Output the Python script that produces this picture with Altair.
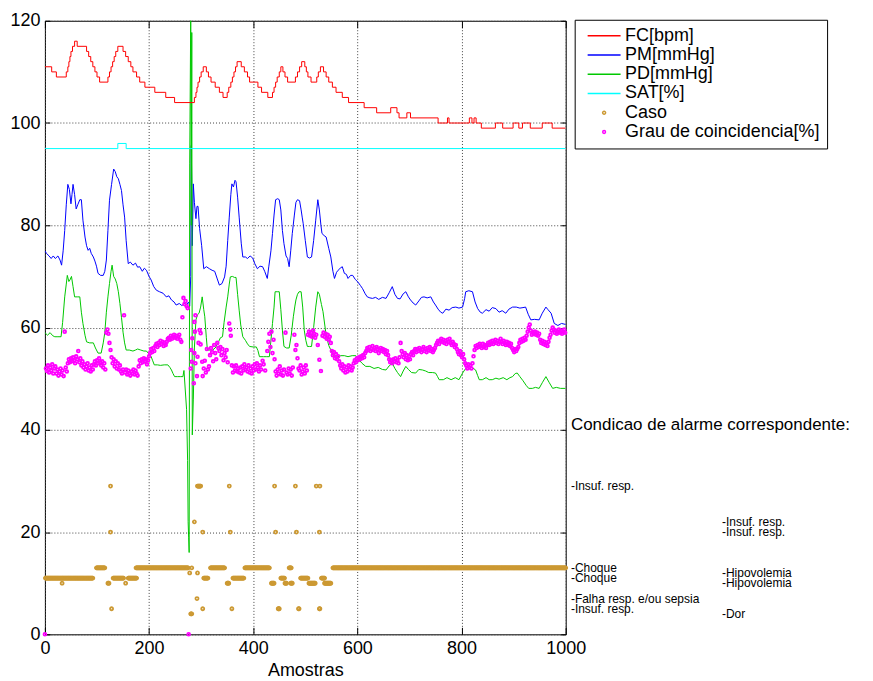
import altair as alt
import pandas as pd

FONT = "Liberation Sans"

SERIES = ["FC[bpm]", "PM[mmHg]", "PD[mmHg]", "SAT[%]", "Caso", "Grau de coincidencia[%]"]
COLORS = ["#ff0000", "#0000ff", "#00c800", "#00ffff", "#cc9933", "#ff00ff"]
LINE_SHAPE = "M-3.3,0L3.3,0"
DOT_SHAPE = "M-0.3,0A0.3,0.3,0,1,1,0.3,0A0.3,0.3,0,1,1,-0.3,0Z"
STAR_SHAPE = "M-0.28,0A0.28,0.28,0,1,1,0.28,0A0.28,0.28,0,1,1,-0.28,0Z"
SHAPES = [LINE_SHAPE, LINE_SHAPE, LINE_SHAPE, LINE_SHAPE, DOT_SHAPE, STAR_SHAPE]

X_TICKS = [0, 200, 400, 600, 800, 1000]
Y_TICKS = [0, 20, 40, 60, 80, 100, 120]

# FC [bpm]  (step values)
FC_X = [0, 13, 22, 41, 44, 46, 48, 50, 53, 57, 62, 80, 84, 88, 92, 96, 100, 105, 121, 124, 127, 130, 133, 136, 140,
        150, 155, 160, 165, 169, 176, 182, 192, 211, 232, 249, 287, 290, 292, 294, 297, 300, 304, 310, 314, 319, 327,
        335, 342, 350, 353, 357, 360, 363, 366, 369, 377, 383, 389, 393, 409, 416, 428, 437, 440, 443, 446, 450, 453,
        457, 461, 466, 481, 485, 489, 493, 499, 502, 505, 511, 522, 525, 529, 535, 540, 545, 552, 559, 571, 583, 613,
        637, 664, 676, 680, 695, 702, 755, 773, 776, 815, 820, 824, 828, 838, 865, 879, 899, 910, 917, 932, 955, 974, 1000]
FC_Y = [111, 110, 109, 110, 111, 112, 113, 114, 115, 116, 115, 114, 113, 112, 111, 110, 109, 108, 109, 110, 111, 112, 113, 114, 115,
        114, 113, 112, 111, 110, 109, 108, 107, 106, 105, 104, 105, 106, 107, 108, 109, 110, 111, 110, 109, 108, 107,
        106, 105, 106, 107, 108, 109, 110, 111, 112, 111, 110, 109, 108, 107, 106, 105, 106, 107, 108, 109, 110, 111,
        110, 109, 108, 109, 110, 111, 112, 111, 110, 109, 108, 109, 110, 111, 110, 109, 108, 107, 106, 105, 104, 103,
        102, 103, 102, 101, 102, 101, 100, 101, 100, 101, 100, 101, 100, 99, 100, 99, 100, 99, 100, 99, 100, 99, 99]

# SAT [%]  (step values)
SAT_X = [0, 140, 156, 1000]
SAT_Y = [95, 96, 95, 95]

# PM [mmHg]
PM_X = [0, 3, 8, 12, 16, 20, 25, 29, 32, 35, 38, 41, 44, 47, 50, 52, 54, 57, 60, 63, 67, 70, 73, 77, 80, 83, 86, 89, 93,
        96, 99, 102, 107, 112, 115, 118, 121, 124, 128, 132, 135, 138, 141, 144, 147, 150, 153, 156, 160, 164, 169, 174,
        178, 182, 187, 191, 195, 200, 204, 209, 214, 220, 227, 233, 238, 243, 248, 252, 258, 263, 268, 272, 276, 278,
        280, 281, 282, 283, 285, 287, 290, 292, 294, 297, 301, 305, 310, 316, 321, 326, 331, 335, 340, 345, 348, 351,
        354, 357, 359, 362, 365, 367, 370, 373, 377, 380, 385, 389, 394, 399, 403, 408, 413, 418, 422, 427, 430, 434,
        437, 440, 443, 447, 450, 453, 456, 459, 463, 466, 469, 472, 475, 479, 482, 485, 489, 492, 494, 496, 500, 504,
        508, 512, 516, 520, 524, 527, 530, 532, 536, 540, 545, 549, 553, 556, 560, 563, 567, 571, 575, 579, 582, 587,
        591, 596, 601, 606, 610, 615, 619, 624, 629, 635, 641, 648, 655, 661, 667, 672, 677, 682, 688, 693, 698, 702,
        707, 712, 718, 723, 728, 734, 741, 746, 750, 755, 760, 764, 770, 776, 782, 789, 795, 802, 806, 808, 814, 821,
        826, 831, 836, 840, 847, 853, 859, 866, 872, 878, 885, 891, 898, 905, 912, 918, 923, 928, 933, 940, 949, 955,
        962, 966, 972, 978, 985, 992, 1000]
PM_Y = [75, 74.5, 74, 73.5, 74, 73.5, 74, 73.2, 72.2, 75, 79, 84, 88, 87, 84.2, 86, 88, 86, 83.2, 84, 85, 85, 81, 77.7,
        76, 75.1, 75.5, 74.5, 73.8, 73, 72, 70.6, 70.2, 70.2, 71, 73.2, 79, 84.9, 88, 91, 90.5, 89.5, 89.1, 88, 86.8, 84,
        81.6, 77, 72.5, 72.8, 72.2, 72.6, 71.8, 71.9, 71, 71.6, 71.2, 70, 69.3, 68, 67.3, 67, 66.7, 66, 66.2, 65.4, 65,
        64.4, 64.7, 64.3, 64.7, 64.5, 65, 64.2, 70, 95.6, 88, 76, 88.1, 84.5, 81.3, 83.7, 83.7, 79.4, 76, 71.5, 71.9,
        71.5, 71.2, 71, 69.5, 68.3, 68.6, 69.9, 72, 77, 81.6, 86, 88.1, 87.5, 88.8, 88.5, 85.5, 81.6, 76.5, 73.8, 73.8,
        73.5, 74, 73.6, 72.5, 71.5, 72, 71.9, 71, 69.6, 72, 75, 78.4, 82, 85, 85.2, 85, 83, 79, 76.4, 74, 73.5, 71.9,
        75, 78.4, 82, 84.5, 85, 84.8, 83, 81.6, 80.3, 77, 73.8, 73.6, 73.8, 77, 81, 85, 83, 80, 78.4, 78, 77.7, 75.5,
        73.8, 71, 69.6, 70.8, 71.2, 71.6, 71.9, 70.6, 70.4, 69.6, 70.2, 70.2, 69.4, 68.9, 68.2, 67.6, 66.6, 66, 65.8,
        65.7, 65.9, 65.5, 65.9, 65.7, 66.8, 68, 66.5, 65.7, 65.6, 66.6, 67, 66, 65.4, 64.8, 64.4, 65.2, 65.9, 66, 65.8,
        66, 65, 64.4, 63.6, 63, 62.8, 63.6, 63.4, 63.9, 64, 63.8, 64, 65.7, 67, 67.2, 67, 65, 63.7, 63, 62.8, 63.5,
        63.2, 63.9, 63.7, 63, 63.3, 62.8, 63.6, 64, 64, 63.8, 63.9, 64, 62.6, 61.5, 61.6, 61.5, 62.8, 64, 63.5, 62.8,
        60.8, 60.4, 60.8, 60.6]

# PD [mmHg]
PD_X = [0, 5, 10, 15, 19, 25, 31, 34, 38, 41, 43, 46, 48, 51, 54, 57, 62, 67, 70, 73, 77, 80, 86, 93, 97, 102, 108, 112,
        115, 118, 121, 124, 127, 129, 132, 135, 138, 141, 144, 147, 150, 153, 156, 162, 169, 174, 178, 184, 190, 195,
        200, 204, 207, 210, 216, 222, 229, 236, 240, 243, 246, 249, 255, 260, 265, 267, 272, 274, 275, 276, 277, 278,
        280, 281, 282, 283, 285, 287, 290, 293, 296, 299, 302, 305, 307, 310, 312, 317, 322, 327, 332, 337, 341, 344,
        348, 351, 354, 356, 360, 364, 367, 370, 373, 376, 380, 385, 389, 393, 400, 406, 409, 412, 420, 426, 431, 434,
        437, 440, 442, 446, 450, 453, 456, 459, 464, 469, 473, 477, 480, 482, 485, 488, 492, 495, 498, 501, 504, 508,
        512, 516, 520, 524, 527, 531, 534, 540, 545, 549, 552, 555, 560, 568, 575, 582, 590, 597, 600, 603, 609, 616,
        624, 632, 640, 648, 655, 661, 667, 672, 677, 683, 688, 693, 698, 704, 712, 718, 725, 731, 737, 744, 750, 754,
        757, 765, 772, 780, 788, 795, 802, 808, 814, 820, 827, 831, 834, 840, 847, 853, 859, 866, 872, 880, 887, 893,
        898, 903, 907, 912, 918, 924, 929, 936, 942, 949, 955, 962, 968, 975, 982, 990, 1000]
PD_Y = [59, 58.5, 59, 58.4, 58.2, 58.2, 58.2, 61, 66, 68.5, 70.2, 69, 69.3, 70, 68, 66, 66, 66, 63, 60.8, 58.5, 57.2, 57,
        57, 56, 55, 55, 57, 59, 63, 66, 68.6, 71, 72.2, 70, 69.5, 68.6, 67, 64.7, 62, 59.1, 57, 55.6, 55.6, 55.4, 55.6,
        55.8, 55.6, 55.4, 55.4, 54.8, 54.3, 53.5, 52.7, 52.7, 52.6, 52.7, 52.7, 52.2, 51.7, 51, 50.4, 50.4, 50.4, 50.4,
        51.6, 44, 34, 22, 19, 16, 92, 121, 80, 117.7, 39, 46, 56, 61.5, 62.5, 62.8, 64, 66, 63.5, 62.1, 58, 55.6, 55.6,
        55.6, 56, 56.9, 58, 58.2, 61, 64, 66, 68.5, 69.9, 70, 69.8, 69.8, 66.5, 63.4, 60.5, 58.2, 57.5, 56.8, 56.3,
        56.2, 56.2, 55.5, 54.3, 54.3, 54.3, 54.3, 57.5, 60.8, 64, 67, 67, 67, 63.5, 59.5, 56.3, 56, 56, 58.5, 62.1,
        64.2, 65.4, 66.5, 67, 67, 64, 59.5, 57.5, 56.3, 56.3, 56.3, 60, 64, 67, 66.5, 64.5, 63.1, 58.5, 56.5, 55.6,
        54.8, 54.3, 54.2, 54.5, 54.5, 54.3, 54.5, 54.5, 54, 53.7, 53, 52.4, 52.4, 52, 52.2, 51.8, 51.7, 52.5, 53, 52,
        51.2, 50.4, 51.5, 52.4, 51.8, 51.2, 51.1, 51.8, 51.7, 51.5, 51.2, 51.2, 51.1, 50.4, 49.8, 49.8, 50.2, 49.8,
        50.2, 49.8, 51.1, 52, 52.4, 52.2, 51.7, 50.6, 49.8, 49.8, 50.2, 49.8, 49.8, 50.1, 49.9, 50.2, 49.8, 50.2,
        50.4, 51, 51.1, 50.4, 49.6, 48.7, 48.1, 48.1, 48.3, 48.1, 49.2, 50.4, 49.3, 48.1, 48.3, 48.1, 48.1]

# Caso: runs of equal value (first sample, last sample, value)
CASO_START = [1, 131, 160, 305, 361, 453, 491, 531,
              99, 175, 282, 318, 384, 469, 553,
              33, 121, 155, 350, 435, 461, 472, 507, 537,
              278, 293,
              128, 303, 359, 448, 487, 527,
              280, 292,
              126, 293, 354, 441, 481, 521, 528,
              126, 303, 356, 443, 483, 527,
              287]
CASO_END = [92, 151, 176, 313, 382, 460, 505, 537,
            115, 275, 282, 345, 431, 473, 1000,
            33, 123, 155, 353, 440, 464, 475, 519, 549,
            278, 293,
            128, 303, 359, 450, 488, 528,
            282, 292,
            126, 299, 354, 441, 481, 521, 528,
            126, 303, 356, 443, 483, 527,
            287]
CASO_VAL = [11, 11, 11, 11, 11, 11, 11, 11,
            13, 13, 13, 13, 13, 13, 13,
            10, 10, 10, 10, 10, 10, 10, 10, 10,
            12, 12,
            5, 5, 5, 5, 5, 5,
            4, 7,
            29, 29, 29, 29, 29, 29, 29,
            20, 20, 20, 20, 20, 20,
            22]

# Grau de coincidencia [%]
GRAU_X = [0, 2, 4, 6, 8, 10, 12, 14, 16, 18, 20, 22, 24, 26, 28, 30, 32, 34, 36, 38, 40, 42, 44, 46, 48, 50, 52, 54, 56,
          58, 60, 62, 64, 66, 68, 70, 72, 74, 76, 78, 80, 82, 84, 86, 88, 90, 92, 94, 96, 98, 100, 102, 104, 106, 108,
          110, 112, 114, 116, 118, 120, 122, 124, 126, 128, 130, 132, 134, 136, 138, 140, 142, 144, 146, 148, 150, 152,
          154, 156, 158, 160, 162, 164, 166, 168, 170, 172, 174, 176, 178, 180, 182, 184, 186, 188, 190, 192, 194, 196,
          198, 200, 202, 204, 206, 208, 210, 212, 214, 216, 218, 220, 222, 224, 226, 228, 230, 232, 234, 236, 238, 240,
          242, 244, 246, 248, 250, 252, 254, 256, 258, 260, 262, 264, 266, 268, 270, 272, 274, 276,
          280, 281, 282, 283, 286, 287, 287, 288, 289, 289, 292, 293, 295, 297, 299, 299, 302, 303, 305, 307, 309, 311,
          313, 315, 317, 319, 321, 323, 325, 327, 329, 331, 333, 335, 337, 339, 341, 343, 345, 347, 349, 351, 354, 356,
          357, 359, 361, 363, 365, 367, 369, 371, 373, 375, 377, 379, 381, 383, 385, 387, 389, 391, 393, 395, 397, 399,
          401, 403, 405, 407, 409, 411, 413, 415, 418, 420, 423, 427, 429, 431, 433, 435, 437, 439, 441, 443, 445, 447,
          449, 451, 453, 455, 457, 459, 462, 464, 466, 468, 470, 472, 474, 476, 479, 481, 483, 485, 487, 489, 491, 493,
          495, 497, 499, 501, 503, 505, 507, 509, 511, 513, 515, 517, 519, 521, 524, 527, 530, 533, 535, 537, 539, 541,
          543, 545, 547, 549, 551, 553, 555, 557, 559, 561, 563, 565, 567, 569, 571, 573, 575, 577, 579, 581, 583, 585,
          587, 589, 591, 593, 595, 597, 599, 601, 603, 605, 607, 609, 611, 613, 615, 617, 619, 621, 623, 625, 627, 629,
          631, 633, 635, 637, 639, 641, 643, 645, 647, 649, 651, 653, 655, 657, 659, 661, 663, 665, 667, 669, 671, 673,
          675, 677, 679, 681, 683, 685, 687, 689, 691, 693, 695, 697, 699, 701, 703, 705, 707, 709, 711, 713, 715, 717,
          719, 721, 723, 725, 727, 729, 731, 733, 735, 737, 739, 741, 743, 745, 747, 749, 751, 753, 755, 757, 759, 761,
          763, 765, 767, 769, 771, 773, 775, 777, 779, 781, 783, 785, 787, 789, 791, 793, 795, 797, 799, 801, 803, 805,
          807, 809, 811, 813, 815, 817, 819, 821, 823, 825, 827, 829, 831, 833, 835, 837, 839, 841, 843, 845, 847, 849,
          851, 853, 855, 857, 859, 861, 863, 865, 867, 869, 871, 873, 875, 877, 879, 881, 883, 885, 887, 889, 891, 893,
          895, 897, 899, 901, 903, 905, 907, 909, 911, 913, 915, 917, 919, 921, 923, 925, 927, 929, 931, 933, 935, 937,
          939, 941, 943, 945, 947, 949, 951, 953, 955, 957, 959, 961, 963, 965, 967, 969, 971, 973, 975, 977, 979, 981,
          983, 985, 987, 989, 991, 993, 995, 997, 999]
GRAU_Y = [0, 52.0, 51.5, 52.6, 51.2, 52.2, 51.6, 52.8, 51.0, 52.0, 52.4, 51.0, 51.8, 50.6, 51.4, 52.0, 50.8, 51.6, 50.5,
          59.2, 52.2, 51.4, 53.0, 53.8, 53.2, 54.0, 53.4, 54.2, 53.6, 53.0, 54.4, 53.8, 55.4, 53.2, 54.0, 52.6, 53.4,
          52.2, 52.8, 51.8, 52.4, 53.0, 51.6, 52.2, 51.4, 52.6, 51.8, 52.8, 53.4, 52.6, 53.6, 53.0, 54.0, 53.2, 52.6,
          53.4, 52.2, 53.0, 51.8, 59.0, 59.6, 58.8, 57.0, 55.6, 54.2, 53.0, 53.8, 52.4, 53.4, 52.0, 53.0, 51.8, 52.6,
          51.4, 51.0, 51.8, 62.4, 51.2, 51.8, 50.8, 51.6, 51.0, 50.6, 51.4, 51.0, 51.8, 50.8, 51.6, 51.0, 50.6, 52.4,
          53.6, 53.0, 53.8, 53.2, 54.0, 53.4, 53.8, 52.8, 53.6, 54.4, 55.0, 55.8, 55.2, 56.0, 55.4, 56.4, 56.8, 56.2,
          57.0, 56.6, 57.4, 56.8, 57.2, 56.4, 57.0, 56.6, 57.2, 57.8, 58.0, 57.6, 58.4, 57.8, 58.2, 58.6, 58.0, 58.4,
          57.8, 58.2, 58.6, 57.6, 57.2, 62.0, 65.8, 64.6, 65.2, 64.2, 63.8, 0,
          52.0, 55.6, 53.3, 57.9, 49.1, 61.1, 55.0, 59.2, 62.4, 53.0, 50.5, 54.3, 57.0, 59.5, 58.9, 56.7, 53.3, 50.5,
          52.0, 53.5, 51.2, 55.8, 51.8, 52.4, 54.6, 56.0, 55.2, 53.4, 56.6, 55.0, 53.8, 57.0, 56.0, 55.4, 56.2, 54.6,
          55.8, 53.6, 55.0, 54.2, 55.6, 53.2, 60.8, 59.6, 58.4, 52.6, 51.2, 52.4, 51.6, 52.6, 51.4, 52.0, 51.2, 52.2,
          51.0, 52.4, 51.6, 52.8, 51.8, 52.2, 51.4, 52.6, 51.2, 52.0, 51.0, 52.4, 51.6, 52.8, 51.8, 53.0, 52.2, 51.4,
          52.6, 51.8, 53.5, 52.8, 51.6, 55.4, 57.2, 58.8, 56.2, 59.2, 55.0, 57.6, 53.8, 51.4, 50.6, 51.8, 51.0, 52.4,
          50.8, 51.6, 50.6, 51.8, 59.0, 51.2, 50.8, 52.0, 51.0, 51.8, 50.6, 52.2, 58.6, 55.6, 56.6, 54.0, 52.0, 51.6,
          52.6, 50.8, 51.4, 52.2, 51.0, 52.6, 51.6, 58.6, 59.2, 58.4, 59.0, 58.2, 59.4, 58.8, 58.0, 58.6, 56.6, 53.7,
          51.5, 58.4, 59.0, 58.2, 58.8, 57.8, 58.6, 57.6, 58.2, 57.0, 55.4, 54.6, 55.2, 54.0, 54.8, 53.8, 54.4, 53.4,
          52.6, 52.0, 52.8, 51.6, 52.4, 51.2, 52.2, 51.4, 52.6, 51.8, 52.4, 51.6, 52.2, 53.0, 53.6, 53.2, 54.0, 53.6,
          54.2, 53.8, 54.4, 54.0, 54.6, 54.2, 55.0, 55.4, 56.0, 55.6, 56.2, 55.4, 55.8, 56.4, 55.6, 56.0, 55.4, 56.2,
          55.8, 55.0, 55.6, 56.0, 55.4, 55.8, 55.2, 55.6, 54.8, 55.4, 54.6, 53.8, 53.2, 53.6, 53.0, 53.8, 53.4, 54.0,
          53.2, 53.6, 53.0, 54.2, 57.0, 55.4, 54.8, 54.2, 55.0, 53.8, 54.6, 53.6, 54.4, 53.8, 54.8, 55.2, 54.6, 55.4,
          55.8, 55.2, 55.8, 55.4, 56.0, 55.6, 55.2, 55.8, 56.2, 55.4, 55.8, 55.2, 56.0, 55.6, 56.2, 55.4, 55.8, 55.2,
          55.6, 56.0, 56.6, 57.0, 57.4, 56.8, 57.4, 57.8, 57.2, 57.6, 57.0, 57.4, 56.8, 57.6, 57.2, 57.8, 57.0, 56.6,
          57.2, 56.8, 56.2, 56.6, 55.8, 55.2, 54.8, 55.4, 54.6, 54.2, 54.8, 53.8, 53.0, 52.6, 52.0, 52.8, 52.2, 52.6,
          52.0, 53.0, 54.4, 55.6, 56.4, 56.0, 56.6, 56.2, 56.8, 56.4, 56.0, 56.8, 56.2, 56.6, 56.0, 56.6, 57.0, 56.6,
          57.2, 56.8, 57.4, 56.8, 57.2, 57.6, 57.0, 57.4, 56.8, 57.2, 57.8, 57.2, 56.8, 57.4, 57.0, 56.6, 57.2, 56.6,
          57.0, 56.4, 56.8, 56.0, 55.6, 55.2, 55.8, 55.4, 55.8, 56.2, 57.0, 57.6, 57.2, 57.8, 57.4, 58.0, 57.6, 58.4,
          59.2, 60.0, 60.6, 59.4, 58.6, 59.0, 58.8, 59.2, 58.6, 59.0, 58.4, 58.8, 57.6, 57.0, 57.4, 56.8, 57.2, 56.6,
          57.0, 56.4, 57.2, 58.0, 58.6, 59.4, 60.0, 59.6, 59.0, 59.4, 58.8, 59.2, 59.6, 59.0, 59.4, 58.8, 59.2, 59.6,
          59.0]

ALARM_TITLE = "Condicao de alarme correspondente:"
ALARM_TITLE_X = [1010]
ALARM_TITLE_Y = [41]
ALARM_X = [1010, 1010, 1010, 1010, 1010, 1300, 1300, 1300, 1300, 1300]
ALARM_Y = [29, 13, 11, 7, 5, 22, 20, 12, 10, 4]
ALARM_TXT = ["-Insuf. resp.", "-Choque", "-Choque", "-Falha resp. e/ou sepsia", "-Insuf. resp.",
             "-Insuf. resp.", "-Insuf. resp.", "-Hipovolemia", "-Hipovolemia", "-Dor"]

# ---------------- data frames ----------------
lin_df = pd.DataFrame({
    "s": PM_X + PD_X,
    "v": PM_Y + PD_Y,
    "serie": [SERIES[1]] * len(PM_X) + [SERIES[2]] * len(PD_X),
})
step_df = pd.DataFrame({
    "s": FC_X + SAT_X,
    "v": FC_Y + SAT_Y,
    "serie": [SERIES[0]] * len(FC_X) + [SERIES[3]] * len(SAT_X),
})
caso_s, caso_v = [], []
for a, b, val in zip(CASO_START, CASO_END, CASO_VAL):
    for k in range(a, b + 1):
        caso_s.append(k)
        caso_v.append(val)
pts_df = pd.DataFrame({
    "s": caso_s + GRAU_X,
    "v": caso_v + GRAU_Y,
    "serie": [SERIES[4]] * len(caso_s) + [SERIES[5]] * len(GRAU_X),
})
txt_df = pd.DataFrame({"s": ALARM_X, "v": ALARM_Y, "t": ALARM_TXT})
title_df = pd.DataFrame({"s": ALARM_TITLE_X, "v": ALARM_TITLE_Y, "t": [ALARM_TITLE]})

W, H = 522, 615
xscale = alt.Scale(domain=[0, 1000], nice=False, zero=False)
yscale = alt.Scale(domain=[0, 120], nice=False, zero=False)
cscale = alt.Scale(domain=SERIES, range=COLORS)
sscale = alt.Scale(domain=SERIES, range=SHAPES)

main_x_axis = alt.Axis(orient="bottom", values=X_TICKS, format="d", grid=True, gridDash=[1, 2],
                       gridColor="#444444", gridWidth=1, ticks=False, tickSize=0, domain=False,
                       labelFont=FONT, labelFontSize=18, labelColor="black", labelPadding=5,
                       labelFlush=False, title="Amostras", titleFont=FONT, titleFontSize=18,
                       titleFontWeight="normal", titleColor="black", titlePadding=4)
main_y_axis = alt.Axis(orient="left", values=Y_TICKS, format="d", grid=True, gridDash=[1, 2],
                       gridColor="#444444", gridWidth=1, ticks=False, tickSize=0, domain=False,
                       labelFont=FONT, labelFontSize=18, labelColor="black", labelPadding=5,
                       labelFlush=False, title=None)


def tick_axis(orient, offset, vals, size):
    return alt.Axis(orient=orient, offset=offset, values=vals, labels=False, domain=False, grid=False,
                    ticks=True, tickSize=size, tickColor="black", tickWidth=1, title=None)


legend = alt.Legend(title=None, orient="none", legendX=531, legendY=-1, labelFont=FONT, labelFontSize=18,
                    labelColor="black", labelLimit=400, symbolSize=100, symbolStrokeWidth=1.5,
                    symbolOffset=13.5, labelOffset=12, padding=7, rowPadding=1.3,
                    strokeColor="black", fillColor="white")

lin = alt.Chart(lin_df).mark_line(strokeWidth=1, clip=True).encode(
    x=alt.X("s:Q", scale=xscale, axis=main_x_axis),
    y=alt.Y("v:Q", scale=yscale, axis=main_y_axis),
    color=alt.Color("serie:N", scale=cscale, legend=legend),
)
step = alt.Chart(step_df).mark_line(strokeWidth=1, interpolate="step-after", clip=True).encode(
    x=alt.X("s:Q", scale=xscale, axis=None),
    y=alt.Y("v:Q", scale=yscale, axis=None),
    color=alt.Color("serie:N", scale=cscale, legend=legend),
)
pts = alt.Chart(pts_df).mark_point(filled=False, size=100, strokeWidth=1.8, opacity=1, clip=False).encode(
    x=alt.X("s:Q", scale=xscale, axis=tick_axis("top", -H, X_TICKS, 7)),
    y=alt.Y("v:Q", scale=yscale, axis=tick_axis("right", -W, Y_TICKS, 5)),
    color=alt.Color("serie:N", scale=cscale, legend=legend),
    shape=alt.Shape("serie:N", scale=sscale, legend=legend),
)
txt = alt.Chart(txt_df).mark_text(align="left", baseline="middle", font=FONT, fontSize=12,
                                  color="black", clip=False).encode(
    x=alt.X("s:Q", scale=xscale, axis=tick_axis("bottom", -H, X_TICKS, 7)),
    y=alt.Y("v:Q", scale=yscale, axis=tick_axis("left", -W, Y_TICKS, 5)),
    text="t:N",
)
ttl = alt.Chart(title_df).mark_text(align="left", baseline="middle", font=FONT, fontSize=17,
                                    color="black", clip=False).encode(
    x=alt.X("s:Q", scale=xscale, axis=None),
    y=alt.Y("v:Q", scale=yscale, axis=None),
    text="t:N",
)

chart = alt.layer(lin, step, pts, txt, ttl).resolve_axis(
    x="independent", y="independent"
).properties(
    width=W, height=H,
    autosize=alt.AutoSizeParams(type="none"),
    padding={"left": 37, "top": 12, "right": 300, "bottom": 45},
    background="white",
).configure_view(stroke="black", strokeWidth=1)

chart.save("out.html", embed_options={"renderer": "svg", "actions": False})
